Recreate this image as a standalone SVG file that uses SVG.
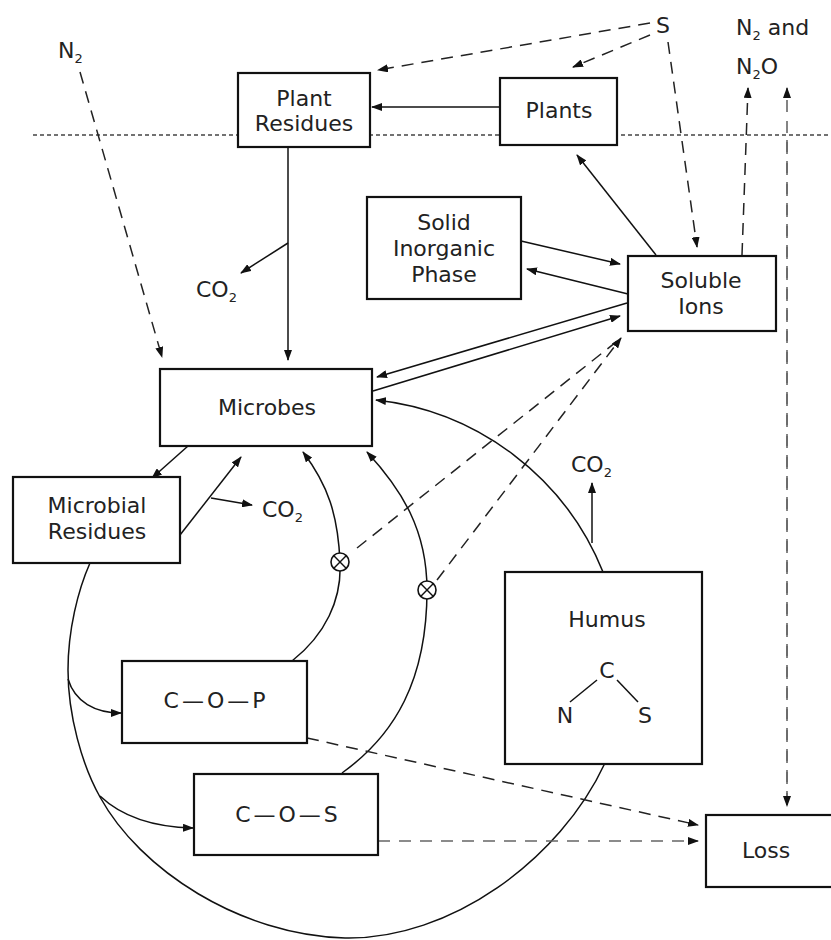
<svg xmlns="http://www.w3.org/2000/svg" width="831" height="940" viewBox="0 0 831 940">
<defs>
<marker id="ah" markerUnits="userSpaceOnUse" markerWidth="11" markerHeight="8" refX="10" refY="4" orient="auto">
<path d="M0,0 L11,4 L0,8 z" fill="#111"/>
</marker>
<style>
.box{fill:#fff;stroke:#111;stroke-width:2.2}
.ln{fill:none;stroke:#111;stroke-width:1.5}
.ds{fill:none;stroke:#222;stroke-width:1.5;stroke-dasharray:12 8}
.dg{fill:none;stroke:#666;stroke-width:1.6;stroke-dasharray:12 9}
.dot{fill:none;stroke:#444;stroke-width:1.4;stroke-dasharray:4 3}
text{font-family:"DejaVu Sans","Liberation Sans",sans-serif;font-size:22px;fill:#222}
.c{text-anchor:middle}
.sub{font-size:13px}
</style>
</defs>
<rect width="831" height="940" fill="#fff"/>
<line class="dot" x1="33" y1="135" x2="831" y2="135"/>
<g id="connectors">
<line class="ds" x1="80" y1="72" x2="162" y2="357" marker-end="url(#ah)"/>
<line class="ds" x1="650" y1="23" x2="378" y2="70" marker-end="url(#ah)"/>
<line class="ds" x1="650" y1="35" x2="573" y2="67" marker-end="url(#ah)"/>
<line class="ds" x1="668" y1="42" x2="697" y2="247" marker-end="url(#ah)"/>
<line class="ds" x1="742" y1="255" x2="748" y2="88" marker-end="url(#ah)"/>
<line class="dg" x1="787" y1="805" x2="787" y2="88" marker-end="url(#ah)"/>
<line class="dg" x1="787" y1="140" x2="787" y2="806" marker-end="url(#ah)"/>
<line class="ln" x1="500" y1="107" x2="372" y2="107" marker-end="url(#ah)"/>
<line class="ln" x1="288" y1="147" x2="288" y2="360" marker-end="url(#ah)"/>
<line class="ln" x1="288" y1="243" x2="241" y2="273" marker-end="url(#ah)"/>
<line class="ln" x1="656" y1="255" x2="577" y2="155" marker-end="url(#ah)"/>
<line class="ln" x1="521" y1="241" x2="620" y2="264" marker-end="url(#ah)"/>
<line class="ln" x1="628" y1="294" x2="527" y2="269" marker-end="url(#ah)"/>
<line class="ln" x1="627" y1="303" x2="377" y2="377" marker-end="url(#ah)"/>
<line class="ln" x1="373" y1="391" x2="620" y2="316" marker-end="url(#ah)"/>
<line class="ds" x1="357" y1="548" x2="621" y2="338"/>
<line class="ds" x1="437" y1="580" x2="621" y2="338" marker-end="url(#ah)"/>
<line class="ln" x1="188" y1="446" x2="152" y2="478" marker-end="url(#ah)"/>
<line class="ln" x1="180" y1="535" x2="241" y2="457" marker-end="url(#ah)"/>
<line class="ln" x1="211" y1="498" x2="252" y2="505" marker-end="url(#ah)"/>
<path class="ln" d="M292 661 C325 635 342 600 340 562 C338 515 328 485 303 452" marker-end="url(#ah)"/>
<path class="ln" d="M342 773 C395 735 427 680 427 590 C427 530 402 490 367 452" marker-end="url(#ah)"/>
<path class="ln" d="M90 563 C78 590 68 630 68 670 C68 715 82 765 100 797 C140 870 240 935 345 938 C450 940 560 860 605 763"/>
<path class="ln" d="M603 572 A277 277 0 0 0 376 400" marker-end="url(#ah)"/>
<line class="ln" x1="592" y1="543" x2="592" y2="483" marker-end="url(#ah)"/>
<path class="ln" d="M68 679 C75 702 95 713 121 713" marker-end="url(#ah)"/>
<path class="ln" d="M100 796 C120 815 150 827 193 828" marker-end="url(#ah)"/>
<line class="ds" x1="307" y1="738" x2="698" y2="825" marker-end="url(#ah)"/>
<line class="dg" x1="378" y1="841" x2="698" y2="841" marker-end="url(#ah)"/>
<g id="otimes1">
<circle cx="340" cy="562" r="9" fill="#fff" stroke="#111" stroke-width="1.6"/>
<path d="M333.6 555.6 L346.4 568.4 M346.4 555.6 L333.6 568.4" stroke="#111" stroke-width="1.4"/>
</g>
<g id="otimes2">
<circle cx="427" cy="590" r="9" fill="#fff" stroke="#111" stroke-width="1.6"/>
<path d="M420.6 583.6 L433.4 596.4 M433.4 583.6 L420.6 596.4" stroke="#111" stroke-width="1.4"/>
</g>
</g>
<g id="label-n2"><text x="58" y="58">N<tspan class="sub" dy="5">2</tspan></text></g>
<g id="label-s"><text x="656" y="33">S</text></g>
<g id="label-n2-n2o">
<text x="736" y="35">N<tspan class="sub" dy="5">2</tspan><tspan dy="-5"> and</tspan></text>
<text x="736" y="74">N<tspan class="sub" dy="5">2</tspan><tspan dy="-5">O</tspan></text>
</g>
<g id="label-co2-a"><text x="196" y="297">CO<tspan class="sub" dy="5">2</tspan></text></g>
<g id="label-co2-b"><text x="262" y="517">CO<tspan class="sub" dy="5">2</tspan></text></g>
<g id="label-co2-c"><text x="571" y="472">CO<tspan class="sub" dy="5">2</tspan></text></g>
<g id="plant-residues">
<rect class="box" x="238" y="73" width="132" height="74"/>
<text class="c" x="304" y="106">Plant</text>
<text class="c" x="304" y="131">Residues</text>
</g>
<g id="plants">
<rect class="box" x="500" y="78" width="117" height="67"/>
<text class="c" x="559" y="118">Plants</text>
</g>
<g id="solid-inorganic-phase">
<rect class="box" x="367" y="197" width="154" height="102"/>
<text class="c" x="444" y="230">Solid</text>
<text class="c" x="444" y="256">Inorganic</text>
<text class="c" x="444" y="282">Phase</text>
</g>
<g id="soluble-ions">
<rect class="box" x="628" y="256" width="148" height="75"/>
<text class="c" x="701" y="288">Soluble</text>
<text class="c" x="701" y="314">Ions</text>
</g>
<g id="microbes">
<rect class="box" x="160" y="369" width="212" height="77"/>
<text class="c" x="267" y="415">Microbes</text>
</g>
<g id="microbial-residues">
<rect class="box" x="13" y="477" width="167" height="86"/>
<text class="c" x="97" y="513">Microbial</text>
<text class="c" x="97" y="539">Residues</text>
</g>
<g id="cop">
<rect class="box" x="122" y="661" width="185" height="82"/>
<text class="c" x="216" y="708" letter-spacing="3">C—O—P</text>
</g>
<g id="cos">
<rect class="box" x="194" y="774" width="184" height="81"/>
<text class="c" x="288" y="822" letter-spacing="3">C—O—S</text>
</g>
<g id="humus">
<rect class="box" x="505" y="572" width="197" height="192"/>
<text class="c" x="607" y="627">Humus</text>
<text class="c" x="607" y="678">C</text>
<text class="c" x="565" y="723">N</text>
<text class="c" x="645" y="723">S</text>
<line class="ln" x1="570" y1="702" x2="597" y2="680"/>
<line class="ln" x1="617" y1="680" x2="638" y2="702"/>
</g>
<g id="loss">
<rect class="box" x="706" y="815" width="135" height="72"/>
<text x="742" y="858">Loss</text>
</g>
</svg>
